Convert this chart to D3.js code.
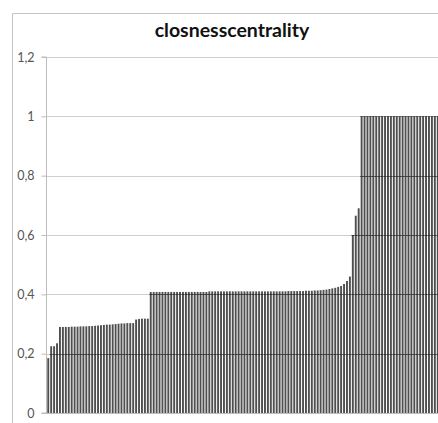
<!DOCTYPE html>
<html><head><meta charset="utf-8">
<script src="https://cdn.jsdelivr.net/npm/d3@7"></script>
<style>body{margin:0;background:#fff}svg{display:block}</style>
</head><body>
<script>
const title = "closnesscentrality";
const yTicks = [0, 0.2, 0.4, 0.6, 0.8, 1, 1.2];
const yTickLabels = ["0", "0,2", "0,4", "0,6", "0,8", "1", "1,2"];
const segLow = [0.185, 0.225, 0.225, 0.235];
const segA = [0.29,0.29,0.29,0.29,0.291,0.291,0.291,0.292,0.292,0.292,0.293,0.293,0.294,0.295,0.296,0.297,0.298,0.298,0.299,0.3,0.301,0.302,0.302,0.303,0.303,0.303];
const segB = [0.315,0.317,0.318,0.318,0.318];
const segC = [0.408,0.408,0.408,0.408,0.408,0.408,0.408,0.408,0.408,0.408,0.408,0.408,0.408,0.408,0.408,0.408,0.408,0.408,0.408,0.408,
  0.41,0.41,0.41,0.41,0.41,0.41,0.41,0.41,0.41,0.41,0.41,0.41,0.41,0.41,0.41,0.41,0.41,0.41,0.41,0.41,
  0.41,0.41,0.41,0.41,0.41,0.41,0.41,0.411,0.411,0.411,0.411,0.411,0.411,0.412,0.412,0.412,0.413,0.413,0.414,0.415,0.416,0.418,0.42,
  0.422,0.425,0.428,0.435,0.445,0.46];
const segD = [0.6, 0.665, 0.69];
const segE = [1,1,1,1,1,1,1,1,1,1,1,1,1,1,1,1,1,1,1,1,1,1,1,1,1,1,1];
const values = [...segLow, ...segA, ...segB, ...segC, ...segD, ...segE];
const data = values.map((v,i)=>({i, v}));

const W = 438, H = 423;
const svg = d3.select("body").append("svg").attr("width", W).attr("height", H);
const x = d3.scaleBand().domain(data.map(d=>d.i)).range([47, 439]).paddingInner(0.35).paddingOuter(0.1);
const y = d3.scaleLinear().domain([0, 1.2]).range([413, 57]);

svg.append("path").attr("d", `M12.5,${H} V13.5 H${W}`).attr("fill","none").attr("stroke","#c3c3c3").attr("stroke-width",1);

svg.append("text").attr("x", 232).attr("y", 37).attr("text-anchor","middle")
  .attr("font-family","Lato, 'Open Sans', sans-serif").attr("font-weight","bold").attr("font-size", 19.5)
  .attr("fill","#111").text(title);

const gridVals = yTicks.filter(t=>t>0);
svg.append("g").selectAll("line").data(gridVals).join("line")
  .attr("x1",47).attr("x2",W).attr("y1",d=>Math.round(y(d))+0.5).attr("y2",d=>Math.round(y(d))+0.5)
  .attr("stroke","#cfcfcf").attr("stroke-width",1);

const defs = svg.append("defs");
const clip = defs.append("clipPath").attr("id","barclip");
clip.selectAll("rect").data(data).join("rect")
  .attr("x", d=>x(d.i)-0.3).attr("width", x.bandwidth()+0.6)
  .attr("y", d=>y(d.v)).attr("height", d=>y(0)-y(d.v));
svg.append("g").selectAll("rect").data(data).join("rect")
  .attr("x", d=>x(d.i)).attr("width", x.bandwidth())
  .attr("y", d=>y(d.v)).attr("height", d=>y(0)-y(d.v))
  .attr("fill","#4f4f4f");

svg.append("g").attr("clip-path","url(#barclip)").selectAll("line").data(gridVals).join("line")
  .attr("x1",47).attr("x2",W).attr("y1",d=>Math.round(y(d))+0.5).attr("y2",d=>Math.round(y(d))+0.5)
  .attr("stroke","#333").attr("stroke-width",1);

const yAxis = d3.axisLeft(y).tickValues(yTicks).tickFormat((d,i)=>yTickLabels[i]).tickSize(5).tickPadding(7);
const ga = svg.append("g").attr("transform","translate(46.5,0)").call(yAxis);
ga.select(".domain").attr("stroke","#bdbdbd").attr("d","M-5,57H0V413H-5");
ga.selectAll(".tick line").attr("stroke","#bdbdbd");
ga.selectAll(".tick text").attr("font-family","Lato, 'Open Sans', sans-serif").attr("font-size",12.5).attr("fill","#555");
svg.append("line").attr("x1",46).attr("x2",W).attr("y1",413.5).attr("y2",413.5).attr("stroke","#bdbdbd");
</script>
</body></html>
